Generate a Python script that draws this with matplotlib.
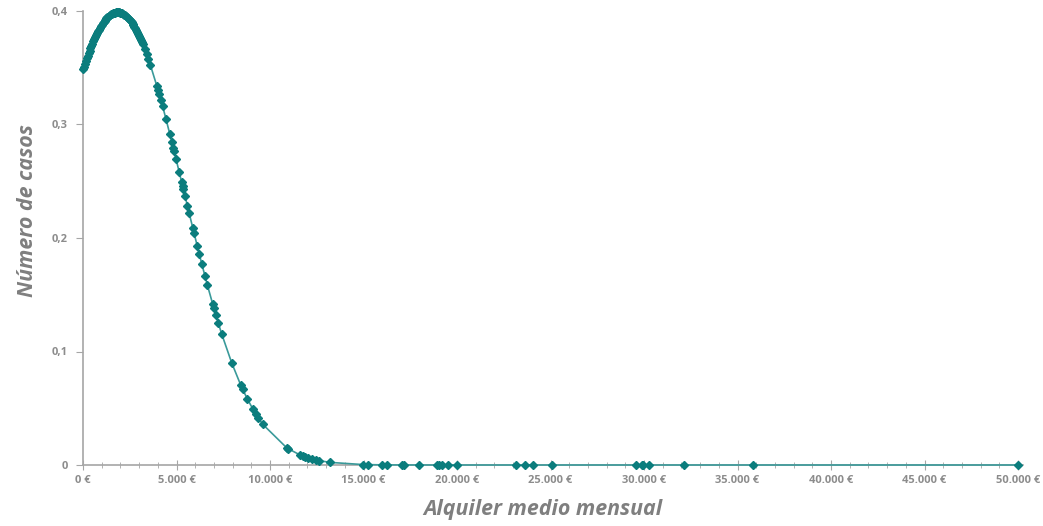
import matplotlib.pyplot as plt
from matplotlib.ticker import MultipleLocator, FuncFormatter

# Tramo denso junto al máximo (alquiler en €, valor de la curva)
alquiler_bajo = [0, 50, 100, 150, 200, 250, 300, 350, 400, 450, 500, 550,
                 600, 650, 700, 750, 800, 850, 900, 950, 1000, 1050, 1100,
                 1150, 1200, 1250, 1300, 1350, 1400, 1450, 1500, 1550, 1600,
                 1650, 1700, 1750, 1800, 1850, 1900, 1950, 2000, 2050, 2100,
                 2150, 2200, 2250, 2300, 2350, 2400, 2450, 2500, 2550, 2600,
                 2650, 2700, 2750, 2800, 2850, 2900, 2950, 3000, 3050, 3100,
                 3150, 3200]
casos_bajo = [0.3485, 0.3510, 0.3535, 0.3559, 0.3583, 0.3606, 0.3629, 0.3651,
              0.3672, 0.3693, 0.3713, 0.3733, 0.3752, 0.3770, 0.3788, 0.3805,
              0.3821, 0.3836, 0.3851, 0.3865, 0.3879, 0.3891, 0.3903, 0.3914,
              0.3924, 0.3934, 0.3943, 0.3951, 0.3959, 0.3965, 0.3971, 0.3976,
              0.3980, 0.3983, 0.3986, 0.3988, 0.3989, 0.3989, 0.3989, 0.3988,
              0.3985, 0.3982, 0.3979, 0.3974, 0.3969, 0.3963, 0.3956, 0.3948,
              0.3940, 0.3931, 0.3921, 0.3910, 0.3899, 0.3887, 0.3874, 0.3860,
              0.3846, 0.3831, 0.3815, 0.3799, 0.3782, 0.3764, 0.3745, 0.3726,
              0.3706]

# Resto de casos
alquiler_alto = [3300, 3400, 3500, 3600, 3950, 4020, 4080, 4170, 4260, 4440,
                 4650, 4750, 4830, 4870, 4970, 5150, 5280, 5330, 5360, 5450,
                 5580, 5680, 5870, 5940, 6110, 6220, 6350, 6520, 6650, 6940,
                 7000, 7110, 7240, 7420, 7950, 8430, 8540, 8790, 9080, 9250,
                 9370, 9610, 10890, 10980, 11600, 11750, 11870, 12050, 12230,
                 12460, 12640, 13210, 14960, 15260, 15970, 16240, 17040,
                 17170, 17980, 18950, 19050, 19180, 19540, 20020, 23160,
                 23640, 24050, 25060, 29570, 29880, 29960, 30280, 32140,
                 35810, 50000]
casos_alto = [0.3665, 0.3621, 0.3575, 0.3526, 0.3341, 0.3301, 0.3266, 0.3213,
              0.3159, 0.3047, 0.2912, 0.2847, 0.2794, 0.2767, 0.2700, 0.2578,
              0.2489, 0.2455, 0.2435, 0.2373, 0.2285, 0.2217, 0.2088, 0.2041,
              0.1929, 0.1857, 0.1773, 0.1666, 0.1586, 0.1415, 0.1380, 0.1319,
              0.1248, 0.1153, 0.0901, 0.0706, 0.0666, 0.0582, 0.0494, 0.0447,
              0.0416, 0.0359, 0.0152, 0.0143, 0.0089, 0.0080, 0.0072, 0.0063,
              0.0054, 0.0044, 0.0038, 0.0023, 0.0004, 0.0003, 0.00014, 0.0001,
              0.00004, 0.00003, 0.00001, 0, 0, 0, 0, 0, 0, 0, 0, 0, 0, 0, 0,
              0, 0, 0, 0]

alquiler = alquiler_bajo + alquiler_alto
casos = casos_bajo + casos_alto

gris = '#8c8c8c'
fig = plt.figure(figsize=(10.43, 5.26), dpi=100)
ax = fig.add_axes([83 / 1043, 61 / 526, 940 / 1043, 454 / 526])

ax.plot(alquiler, casos, color='#3a9a9a', linewidth=1.2, zorder=3,
        clip_on=False)
ax.plot(alquiler, casos, linestyle='none', marker='D', markersize=4.5,
        color='#0b7d7d', zorder=4, clip_on=False)

ax.set_xlim(0, 50267)
ax.set_ylim(0, 0.4)
ax.xaxis.set_major_locator(MultipleLocator(5000))
ax.xaxis.set_minor_locator(MultipleLocator(1000))
ax.yaxis.set_major_locator(MultipleLocator(0.1))
ax.xaxis.set_major_formatter(FuncFormatter(
    lambda v, p: '{:,.0f} €'.format(v).replace(',', '.')))
ax.yaxis.set_major_formatter(FuncFormatter(
    lambda v, p: '0' if v == 0 else '{:.1f}'.format(v).replace('.', ',')))

for s in ['top', 'right']:
    ax.spines[s].set_visible(False)
for s in ['left', 'bottom']:
    ax.spines[s].set_color('#a6a6a6')
    ax.spines[s].set_linewidth(1.2)

ax.tick_params(axis='x', which='major', direction='inout', length=7,
               color='#a6a6a6', labelsize=8, labelcolor=gris, pad=4)
ax.tick_params(axis='x', which='minor', direction='inout', length=4,
               color='#a6a6a6')
ax.tick_params(axis='y', direction='out', length=5, color='#a6a6a6',
               labelsize=8, labelcolor=gris, pad=6)
for lab in ax.get_xticklabels() + ax.get_yticklabels():
    lab.set_fontfamily('Open Sans')
    lab.set_fontweight('bold')

fig.text(543 / 1043, 16 / 526, 'Alquiler medio mensual', ha='center',
         va='center', fontsize=15.4, fontweight='bold', style='italic',
         color='#7f7f7f', family='Open Sans')
fig.text(28 / 1043, 1 - 211 / 526, 'Número de casos', ha='center',
         va='center', rotation=90, fontsize=15.4, fontweight='bold',
         style='italic', color='#7f7f7f', family='Open Sans')

fig.savefig('out.png', dpi=100)
